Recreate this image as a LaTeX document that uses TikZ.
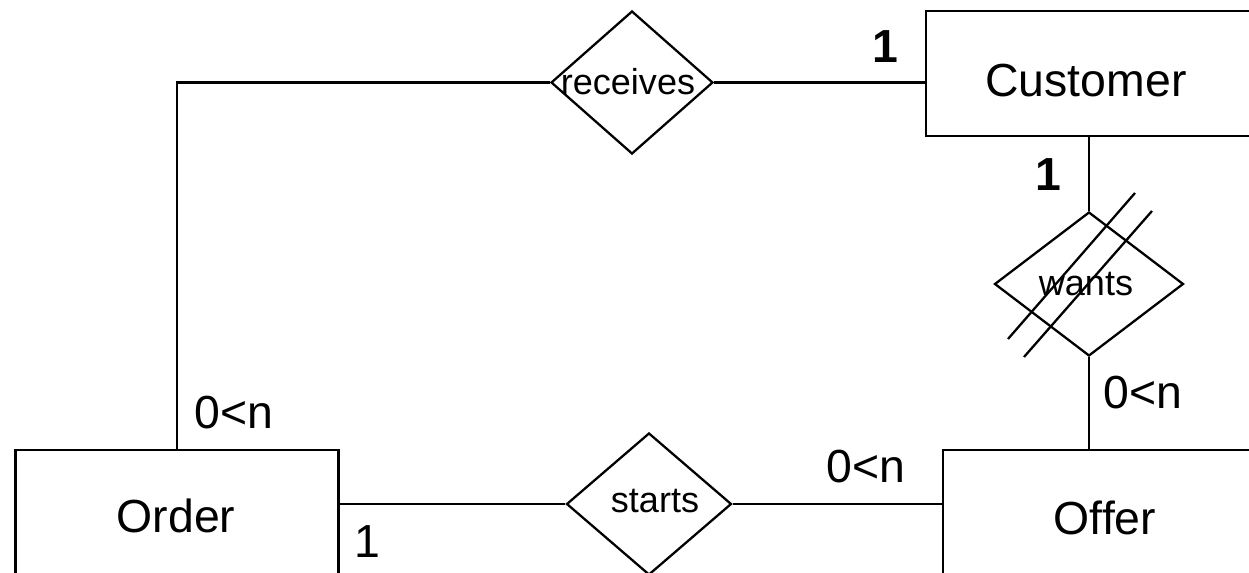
\documentclass[tikz,border=0pt]{standalone}
\usepackage{fontspec}
\setmainfont{Liberation Sans}
\usetikzlibrary{shapes.geometric}

\begin{document}
\begin{tikzpicture}[x=0.02cm,y=-0.02cm,line width=1.3pt,
                    entity/.style={draw,rectangle,inner sep=0pt},
                    rel/.style={draw,diamond,inner sep=0pt},
                    big/.style={font=\fontsize{26.4}{30}\selectfont},
                    small/.style={font=\fontsize{20.5}{24}\selectfont},
                    card/.style={font=\fontsize{26.4}{30}\selectfont},
                    bcard/.style={font=\fontsize{26.4}{30}\selectfont\bfseries}]

  \useasboundingbox (0,0) rectangle (1249,573);

  \node[entity, minimum width=6.52cm, minimum height=2.5cm]  (customer) at (1089,73.5) {};
  \node[entity, minimum width=6.46cm, minimum height=2.72cm] (order)    at (177,518)   {};
  \node[entity, minimum width=6.48cm, minimum height=2.72cm] (offer)    at (1105,518)  {};

  \node[rel, minimum width=3.24cm, minimum height=2.86cm] (receives) at (632,82.5) {};
  \node[rel, minimum width=3.78cm, minimum height=2.88cm] (wants)    at (1089,284) {};
  \node[rel, minimum width=3.3cm,  minimum height=2.84cm] (starts)   at (649,504)  {};

  \node[big]   (customertext) at (1086,81)  {Customer};
  \node[big]   (ordertext)    at (176,516)  {Order};
  \node[big]   (offertext)    at (1105,518) {Offer};
  \node[small] (receivestext) at (628,82)   {receives};
  \node[small] (wantstext)    at (1086,284) {wants};
  \node[small] (startstext)   at (655,501)  {starts};

  \draw (order.north) |- (receives.west);
  \draw (receives.east) -- (receives.east -| customer.west);
  \draw (customer.south) -- (wants.north);
  \draw (wants.south) -- (wants.south |- offer.north);
  \draw (order.east |- starts.west) -- (starts.west);
  \draw (starts.east) -- (starts.east -| offer.west);

  \draw ([shift={(46,-91)}]wants.center) -- ([shift={(-81,55)}]wants.center);
  \draw ([shift={(63,-73)}]wants.center) -- ([shift={(-65,73)}]wants.center);

  \node[bcard] (custone)   at (885,47)   {1};
  \node[bcard] (wantsone)  at (1048,175) {1};
  \node[card]  (wantsmany) at (1143,393) {0<n};
  \node[card]  (startmany) at (866,467)  {0<n};
  \node[card]  (orderone)  at (367,542)  {1};
  \node[card]  (ordermany) at (234,413)  {0<n};
\end{tikzpicture}
\end{document}
